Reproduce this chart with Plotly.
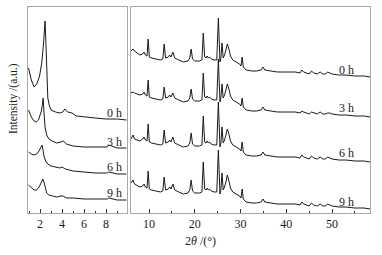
import plotly.graph_objects as go

# ---------------- data ----------------
times = ["0 h", "3 h", "6 h", "9 h"]

# Left panel (low angle), intensity a.u.
x_low_0h = [0.95, 1.2, 1.45, 1.7, 1.95, 2.15, 2.3, 2.4, 2.45, 2.52, 2.6, 2.7, 2.85, 3.0, 3.4, 3.8, 4.05, 4.25, 4.5, 4.9, 5.3, 6.0, 7.0, 8.0, 9.0, 9.85]
y_low_0h = [145, 133, 126, 129, 137, 150, 168, 183, 192, 173, 138, 115, 107, 103, 101, 100, 101, 104, 101, 100, 97, 96, 95, 94, 94, 93]

x_low_3h = [0.95, 1.2, 1.45, 1.65, 1.85, 2.0, 2.12, 2.22, 2.28, 2.35, 2.45, 2.6, 2.8, 3.1, 3.5, 3.9, 4.1, 4.4, 5.0, 6.0, 7.5, 8.1, 8.25, 9.0, 9.85]
y_low_3h = [103, 96, 92, 91, 93, 97, 102, 110, 115, 101, 86, 78, 74, 72, 70, 71, 72, 69, 67, 66, 66, 66, 68, 65, 65]

x_low_6h = [0.95, 1.2, 1.45, 1.7, 1.9, 2.05, 2.17, 2.25, 2.35, 2.5, 2.7, 3.0, 3.4, 3.8, 4.0, 4.3, 5.0, 6.0, 7.0, 8.1, 8.25, 9.0, 9.85]
y_low_6h = [61, 59, 58, 59, 62, 65, 68, 64, 57, 52, 49, 47, 46, 45, 46, 44, 42, 41, 40, 40, 41, 39, 39]

x_low_9h = [0.95, 1.2, 1.45, 1.65, 1.85, 2.0, 2.12, 2.25, 2.35, 2.45, 2.6, 2.8, 3.1, 3.5, 3.9, 4.1, 4.4, 5.0, 6.0, 7.0, 8.1, 8.25, 9.0, 9.85]
y_low_9h = [28, 25, 23, 23, 25, 28, 31, 34, 31, 25, 20, 18, 17, 16, 17, 17, 15, 15, 14, 14, 14, 15, 13, 13]

# Right panel (wide angle)
x_wide = [6.05, 6.5, 6.8, 7.3, 8.0, 8.6, 8.9, 9.2, 9.55, 9.8,
          10.05, 10.5, 11.5, 12.5, 13.0, 13.3, 13.6, 14.2, 14.5, 14.8,
          15.2, 15.6, 16.5, 17.5, 18.5, 18.9, 19.2, 19.5, 20.0, 21.0,
          21.55, 21.85, 22.15, 22.45, 22.7, 22.95, 23.2, 23.6, 24.2, 24.8,
          25.15, 25.5, 25.7, 25.95, 26.2, 26.5, 26.8, 27.1, 27.4, 27.8,
          28.3, 29.0, 29.8, 30.1, 30.35, 30.6, 31.2, 32.5, 33.5, 34.5,
          34.9, 35.3, 36.5, 38.0, 40.0, 42.0, 43.0, 43.4, 43.8, 44.5,
          45.0, 45.5, 46.0, 46.8, 47.4, 48.0, 48.6, 49.0, 49.5, 50.0,
          51.5, 53.0, 55.0, 57.0, 58.3]
int_0h = [26, 28, 26, 24, 22, 23, 25, 22, 21, 38,
          20, 19, 18, 17, 18, 33, 19, 20, 22, 20,
          25, 19, 17, 15, 16, 19, 28, 18, 16, 16,
          17, 44, 20, 19, 21, 19, 20, 18, 17, 17,
          59, 15, 19, 34, 19, 22, 27, 33, 29, 21,
          17, 15, 13, 11, 20, 10, 7, 6, 6, 7,
          10, 7, 6, 5, 5, 5, 4, 7, 5, 4,
          3, 6, 4, 3, 5, 3, 3, 5, 4, 3,
          2, 2, 1, 1, 0]
int_3h = [24, 25, 24, 23, 22, 23, 25, 22, 21, 37,
          20, 19, 18, 17, 18, 30, 19, 20, 22, 20,
          24, 19, 17, 15, 16, 19, 28, 18, 16, 16,
          17, 44, 20, 19, 21, 19, 20, 18, 17, 17,
          58, 15, 19, 33, 19, 22, 27, 33, 29, 21,
          17, 15, 13, 11, 19, 10, 7, 6, 6, 7,
          10, 7, 6, 5, 5, 5, 4, 6, 5, 4,
          3, 5, 4, 3, 5, 3, 3, 4, 4, 3,
          2, 2, 1, 1, 0]
int_6h = [23, 27, 23, 22, 21, 23, 25, 22, 21, 38,
          20, 19, 18, 17, 18, 32, 19, 20, 22, 20,
          25, 19, 17, 15, 16, 19, 29, 18, 16, 16,
          17, 46, 20, 19, 21, 19, 20, 18, 17, 17,
          60, 15, 19, 35, 19, 22, 27, 33, 29, 21,
          17, 15, 13, 11, 20, 10, 7, 6, 6, 7,
          10, 7, 6, 5, 5, 5, 4, 7, 5, 4,
          3, 6, 4, 3, 5, 3, 3, 5, 4, 3,
          2, 2, 1, 1, 0]
int_9h = [26, 29, 25, 24, 22, 23, 25, 22, 21, 38,
          20, 19, 18, 17, 18, 32, 19, 20, 22, 20,
          25, 19, 17, 15, 16, 19, 29, 18, 16, 16,
          17, 47, 20, 19, 21, 19, 20, 18, 17, 17,
          59, 15, 19, 36, 19, 22, 27, 34, 29, 21,
          17, 15, 13, 11, 20, 10, 7, 6, 6, 7,
          10, 7, 6, 5, 5, 5, 4, 7, 5, 4,
          3, 6, 4, 3, 5, 3, 3, 5, 4, 3,
          2, 2, 1, 1, 0]
stack_offsets = [136, 96, 51, 4]

low_x = [x_low_0h, x_low_3h, x_low_6h, x_low_9h]
low_y = [y_low_0h, y_low_3h, y_low_6h, y_low_9h]
wide_y = [int_0h, int_3h, int_6h, int_9h]

low_label_y = [100, 71, 46, 20]
wide_label_y = [143, 105, 60, 11]

# ---------------- figure ----------------
FONT = "Liberation Serif"
LINE = "#1a1a1a"
FRAME = "#a8a8a8"
TXT = "#1a1a1a"

fig = go.Figure()
for i, t in enumerate(times):
    fig.add_trace(go.Scatter(x=low_x[i], y=low_y[i], mode="lines",
                             line=dict(color=LINE, width=1), xaxis="x", yaxis="y",
                             showlegend=False, hoverinfo="skip"))
    fig.add_trace(go.Scatter(x=x_wide, y=[v + stack_offsets[i] for v in wide_y[i]],
                             mode="lines", line=dict(color=LINE, width=1),
                             xaxis="x2", yaxis="y2", showlegend=False, hoverinfo="skip"))

annotations = []
for i, t in enumerate(times):
    annotations.append(dict(x=8.75, y=low_label_y[i], xref="x", yref="y", text=t,
                            showarrow=False, font=dict(family=FONT, size=12, color=TXT)))
    annotations.append(dict(x=53.2, y=wide_label_y[i], xref="x2", yref="y2", text=t,
                            showarrow=False, font=dict(family=FONT, size=12, color=TXT)))

annotations.append(dict(x=-0.044, y=0.558, xref="paper", yref="paper", text="Intensity /(a.u.)",
                        textangle=-90, showarrow=False, xanchor="center", yanchor="middle",
                        font=dict(family=FONT, size=11.5, color=TXT)))
annotations.append(dict(x=0.503, y=-0.136, xref="paper", yref="paper", text="2<i>θ</i> /(°)",
                        showarrow=False, xanchor="center", yanchor="middle",
                        font=dict(family=FONT, size=12, color=TXT)))

xcommon = dict(showgrid=False, zeroline=False, showline=True, linecolor=FRAME, linewidth=1,
               mirror=True, ticks="inside", ticklen=4, tickcolor="#333", tickwidth=1,
               tickfont=dict(family=FONT, size=12, color=TXT))
ycommon = dict(showgrid=False, zeroline=False, showline=True, linecolor=FRAME, linewidth=1,
               mirror=True, ticks="", showticklabels=False, range=[0, 206], fixedrange=True)

fig.update_layout(
    width=382, height=255,
    margin=dict(l=28, r=12, t=7, b=42),
    paper_bgcolor="white", plot_bgcolor="white",
    hovermode=False,
    xaxis=dict(domain=[0, 0.2895], range=[0.9, 9.9], tickvals=[2, 4, 6, 8],
               minor=dict(tickvals=[1, 3, 5, 7, 9], ticks="inside", ticklen=2, tickcolor="#333"),
               anchor="y", **xcommon),
    yaxis=dict(domain=[0, 1], anchor="x", **ycommon),
    xaxis2=dict(domain=[0.3012, 1], range=[6.05, 58.3], tickvals=[10, 20, 30, 40, 50],
                minor=dict(tickvals=[15, 25, 35, 45, 55], ticks="inside", ticklen=2, tickcolor="#333"),
                anchor="y2", **xcommon),
    yaxis2=dict(domain=[0, 1], anchor="x2", **ycommon),
    annotations=annotations,
)

fig.write_html("out.html", config={"displayModeBar": False, "staticPlot": True},
               post_script="document.body.style.margin='0';document.body.style.padding='0';")
